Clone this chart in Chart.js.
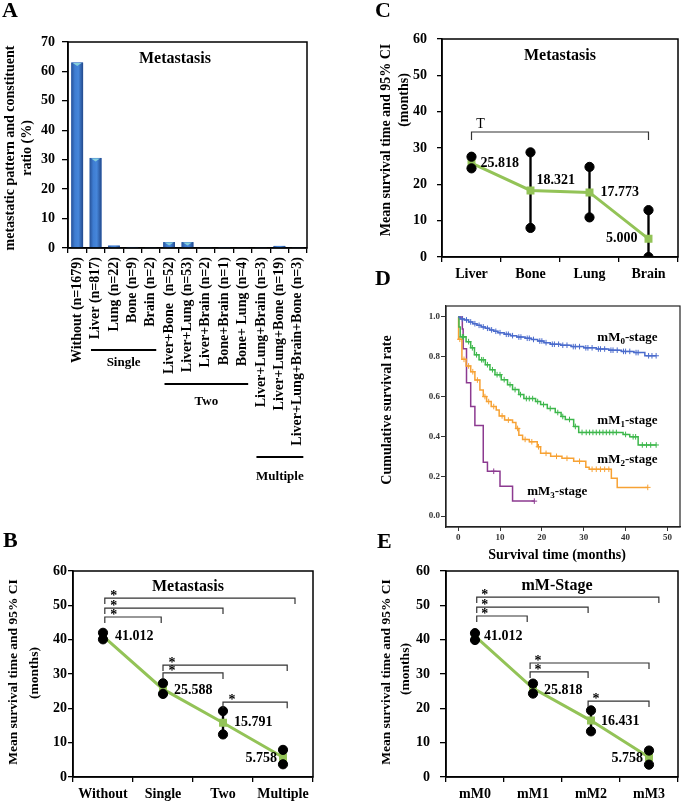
<!DOCTYPE html>
<html>
<head>
<meta charset="utf-8">
<title>Metastasis survival figure</title>
<script src="https://cdn.jsdelivr.net/npm/chart.js@4.4.1/dist/chart.umd.min.js"></script>
<style>
    html, body { margin: 0; padding: 0; background: #fff; }
    #fig { position: relative; width: 685px; height: 801px; overflow: hidden; }
    #fig canvas { position: absolute; }
</style>
</head>
<body>
<div id="fig">
    <canvas id="chartA" width="340" height="500" style="left:0;top:0"></canvas>
    <canvas id="chartC" width="345" height="285" style="left:340px;top:0"></canvas>
    <canvas id="chartD" width="345" height="300" style="left:340px;top:265px"></canvas>
    <canvas id="chartB" width="340" height="291" style="left:0;top:510px"></canvas>
    <canvas id="chartE" width="345" height="286" style="left:340px;top:515px"></canvas>
</div>
<script>
const SERIF = "'Liberation Serif', 'Times New Roman', serif";
Chart.defaults.font.family = SERIF;
Chart.defaults.color = "#000";

// Panel A - metastatic pattern
const categoriesA = ["Without (n=1679)", "Liver (n=817)", "Lung (n=22)", "Bone (n=9)", "Brain (n=2)",
    "Liver+Bone  (n=52)", "Liver+Lung (n=53)", "Liver+Brain (n=2)", "Bone+Brain (n=1)", "Bone+ Lung (n=4)",
    "Liver+Lung+Brain (n=3)", "Liver+Lung+Bone (n=19)", "Liver+Lung+Brain+Bone (n=3)"];
const ratioA = [63.0, 30.6, 0.8, 0.35, 0.1, 2.0, 2.0, 0.1, 0.05, 0.15, 0.1, 0.7, 0.1];
const groupNamesA = ["Single", "Two", "Multiple"];
const groupSpansA = [[1, 4], [5, 9], [10, 12]];

// Panel B - metastasis groups
const categoriesB = ["Without", "Single", "Two", "Multiple"];
const meanB = [41.012, 25.588, 15.791, 5.758];
const lowB = [40.1, 24.2, 12.4, 3.7];
const highB = [42.0, 27.3, 19.2, 7.9];
const pairsB = [[0, 3], [0, 2], [0, 1], [1, 3], [1, 2], [2, 3]];

// Panel C - metastasis site
const categoriesC = ["Liver", "Bone", "Lung", "Brain"];
const meanC = [25.818, 18.321, 17.773, 5.000];
const lowC = [24.4, 8.0, 10.9, 0];
const highC = [27.6, 28.8, 24.8, 12.9];
const pairsC = [[0, 3]];

// Panel E - mM stage
const categoriesE = ["mM0", "mM1", "mM2", "mM3"];
const meanE = [41.012, 25.818, 16.431, 5.758];
const lowE = [39.9, 24.3, 13.3, 3.6];
const highE = [41.9, 27.2, 19.4, 7.7];
const pairsE = [[0, 3], [0, 2], [0, 1], [1, 3], [1, 2], [2, 3]];

// Panel D - Kaplan-Meier curves (event times, survival after event, censored times)
const m0Times = [0.5, 1.5, 2.5, 3.5, 4.5, 5.5, 6.5, 7.5, 8.5, 9.5, 11, 12.5, 14, 16, 17.5, 19, 20.5, 22, 24.5, 27, 30, 33, 36, 39, 42, 44.6];
const m0Surv = [0.99, 0.985, 0.975, 0.966, 0.958, 0.95, 0.943, 0.935, 0.928, 0.921, 0.913, 0.906, 0.899, 0.893, 0.887, 0.879, 0.871, 0.863, 0.858, 0.851, 0.845, 0.839, 0.833, 0.827, 0.821, 0.805];
const m0Censor = [1, 2, 3, 4, 5, 6, 7, 8, 9, 10, 11.5, 12, 13, 14.5, 15, 16.5, 17, 18, 19.5, 20, 21, 22.5, 23, 24, 25, 26, 27.5, 28, 29, 30.5, 31, 32, 33.5, 34, 35, 36.5, 37, 38, 39.5, 40, 41, 42.5, 43, 45.5, 46.3, 47.3];

const m1Times = [0.2, 0.5, 1.9, 3.0, 3.9, 5.0, 6.5, 7.6, 8.8, 10.3, 11.8, 13.0, 14.5, 15.7, 18.5, 19.7, 21.3, 23.2, 24.6, 25.6, 27.6, 28.8, 39.4, 41.0, 43.0];
const m1Surv = [0.95, 0.90, 0.876, 0.845, 0.81, 0.785, 0.76, 0.735, 0.71, 0.685, 0.66, 0.635, 0.61, 0.59, 0.575, 0.56, 0.54, 0.52, 0.50, 0.485, 0.45, 0.42, 0.41, 0.398, 0.357];
const m1Censor = [1, 1.3, 2.5, 3.4, 4.4, 5.6, 6, 7, 8.2, 9.3, 10, 11, 12.4, 13.6, 14.9, 16.3, 17, 17.8, 19, 20.4, 22, 23.8, 25, 26.6, 28, 29.6, 30.6, 31.4, 32.2, 33, 33.8, 34.6, 35.4, 36.2, 37, 37.8, 40, 41.8, 42.4, 44, 45, 46, 47.3];

const m2Times = [0.1, 0.9, 1.9, 3.0, 4.0, 5.2, 6.0, 6.8, 7.9, 9.1, 9.8, 11.1, 13.0, 13.8, 14.5, 15.4, 17.0, 18.9, 19.7, 22.1, 24.8, 27.6, 30.5, 31.3, 36.6, 38.0];
const m2Surv = [0.888, 0.787, 0.754, 0.725, 0.683, 0.633, 0.60, 0.575, 0.55, 0.533, 0.503, 0.482, 0.47, 0.44, 0.406, 0.385, 0.373, 0.348, 0.315, 0.30, 0.29, 0.275, 0.245, 0.235, 0.19, 0.144];
const m2Censor = [0.4, 1.4, 2.5, 3.5, 4.6, 6.4, 7.3, 8.5, 10.5, 12, 14.2, 16, 17.6, 19.2, 21, 23.5, 26, 29, 32, 33, 34, 35, 36, 45.3];

const m3Times = [1.0, 1.2, 2.0, 3.0, 4.0, 6.0, 7.0, 10.0, 13.0];
const m3Surv = [0.94, 0.84, 0.67, 0.55, 0.455, 0.27, 0.225, 0.15, 0.075];
const m3Censor = [8.5, 18.2];

const stageSubs = ["0", "1", "2", "3"];
const stageColors = ["#4a6bcc", "#3db74b", "#f7a234", "#8c3a90"];
const GREEN = "#93c357";

// ---------- helpers ----------
function drawText(ctx, t) {
    ctx.save();
    ctx.translate(t.x, t.y);
    if (t.rot) ctx.rotate(-Math.PI / 2);
    ctx.font = t.font;
    ctx.fillStyle = t.color || "#000";
    ctx.textAlign = t.align || "center";
    ctx.textBaseline = t.base || "middle";
    ctx.fillText(t.text, 0, 0);
    ctx.restore();
}

// frame box + free texts (panel letter, title, axis titles)
function decor(cfg) {
    return {
        id: "decor",
        afterDraw(chart) {
            const ctx = chart.ctx;
            const a = chart.chartArea;
            ctx.save();
            ctx.strokeStyle = cfg.frameColor || "#000";
            ctx.lineWidth = cfg.frameWidth || 1.5;
            ctx.strokeRect(a.left, a.top, a.right - a.left, a.bottom - a.top);
            ctx.restore();
            cfg.texts.forEach((t) => drawText(ctx, t));
        },
    };
}

function yAxis(max, width, pad, tick) {
    return {
        min: 0,
        max: max,
        ticks: { stepSize: 10, padding: pad, font: { size: 14, weight: "bold" }, color: "#000" },
        grid: { drawOnChartArea: false, tickLength: tick, color: "#000", lineWidth: 1.3 },
        border: { color: "#000", width: 1.5 },
        afterFit: (s) => { s.width = width; },
    };
}

function xCategory(height) {
    return {
        offset: true,
        grid: { offset: true, drawOnChartArea: false, tickLength: 5, color: "#000", lineWidth: 1.3 },
        border: { color: "#000", width: 1.5 },
        ticks: { padding: 4, font: { size: 14, weight: "bold" }, color: "#000", autoSkip: false, maxRotation: 0 },
        afterFit: (s) => { s.height = height; },
    };
}

// comparison brackets drawn through the chart scales
function brackets(pairs, cfg) {
    return {
        id: "brackets",
        afterDatasetsDraw(chart) {
            const { ctx } = chart;
            const x = chart.scales.x, y = chart.scales.y;
            ctx.save();
            pairs.forEach((p, i) => {
                const [lvl, dl, dr] = cfg.levels[i];
                const x1 = x.getPixelForValue(p[0] + dl);
                const x2 = x.getPixelForValue(p[1] + dr);
                const yy = y.getPixelForValue(lvl);
                ctx.strokeStyle = "#333";
                ctx.lineWidth = 1.2;
                ctx.beginPath();
                ctx.moveTo(x1, yy + cfg.drop);
                ctx.lineTo(x1, yy);
                ctx.lineTo(x2, yy);
                ctx.lineTo(x2, yy + cfg.drop);
                ctx.stroke();
                drawText(ctx, { text: cfg.mark, x: x1 + cfg.markDx, y: yy + cfg.markDy, font: cfg.markFont, base: "alphabetic" });
            });
            ctx.restore();
        },
    };
}

// numeric labels next to the mean points
function valueLabels(values, offsets) {
    return {
        id: "valueLabels",
        afterDatasetsDraw(chart) {
            const meta = chart.getDatasetMeta(2);
            meta.data.forEach((pt, i) => {
                const [dx, dy, align] = offsets[i];
                drawText(chart.ctx, { text: values[i].toFixed(3), x: pt.x + dx, y: pt.y + dy, font: "bold 14px " + SERIF, align: align });
            });
        },
    };
}

function meanChart(id, labels, mean, low, high, opts) {
    return new Chart(document.getElementById(id), {
        type: "line",
        data: {
            labels: labels,
            datasets: [
                { data: high, showLine: false, pointRadius: 4.6, pointBackgroundColor: "#000", pointBorderColor: "#000", order: 0 },
                { data: low, showLine: false, pointRadius: 4.6, pointBackgroundColor: "#000", pointBorderColor: "#000", order: 0 },
                { data: mean, borderColor: GREEN, borderWidth: 3, pointStyle: "rect", pointRadius: 3.5, pointBackgroundColor: GREEN, pointBorderColor: GREEN, order: 1 },
                { type: "bar", data: low.map((v, i) => [v, high[i]]), backgroundColor: "#000", barThickness: 1.7, order: 2 },
            ],
        },
        options: {
            responsive: false,
            animation: false,
            events: [],
            layout: { padding: opts.padding },
            plugins: { legend: { display: false }, tooltip: { enabled: false } },
            scales: { x: xCategory(opts.xHeight), y: yAxis(60, opts.yWidth, opts.yPad, opts.yTick) },
        },
        plugins: opts.plugins,
    });
}

// ---------- Panel A ----------
const barShade = {
    id: "barShade",
    afterDatasetsDraw(chart) {
        const ctx = chart.ctx;
        chart.getDatasetMeta(0).data.forEach((bar) => {
            const { x, y, base, width } = bar.getProps(["x", "y", "base", "width"], true);
            const l = x - width / 2;
            const h = base - y;
            if (h <= 0.2) return;
            const g = ctx.createLinearGradient(l, 0, l + width, 0);
            g.addColorStop(0, "#285399");
            g.addColorStop(0.3, "#3f7dd2");
            g.addColorStop(0.6, "#4686da");
            g.addColorStop(1, "#22498c");
            ctx.fillStyle = g;
            ctx.fillRect(l, y, width, h);
            if (h > 2) {
                ctx.fillStyle = "#86cfdb";
                ctx.beginPath();
                ctx.moveTo(l + 1.5, y + 0.5);
                ctx.lineTo(l + width - 1.5, y + 0.5);
                ctx.lineTo(x, y + Math.min(3.5, h - 0.5));
                ctx.closePath();
                ctx.fill();
            }
        });
    },
};

const groupLinesA = {
    id: "groupLines",
    afterDraw(chart) {
        const ctx = chart.ctx;
        const x = chart.scales.x;
        const lineY = [350, 384, 457];
        const textY = [363, 402, 477];
        ctx.save();
        ctx.strokeStyle = "#000";
        ctx.lineWidth = 2;
        groupSpansA.forEach((span, i) => {
            const x1 = x.getPixelForValue(span[0] - 0.25);
            const x2 = x.getPixelForValue(span[1] + 0.3);
            ctx.beginPath();
            ctx.moveTo(x1, lineY[i]);
            ctx.lineTo(x2, lineY[i]);
            ctx.stroke();
            drawText(ctx, { text: groupNamesA[i], x: (x1 + x2) / 2, y: textY[i], font: "bold 13px " + SERIF });
        });
        ctx.restore();
    },
};

new Chart(document.getElementById("chartA"), {
    type: "bar",
    data: {
        labels: categoriesA,
        datasets: [{ data: ratioA, backgroundColor: "#3a72c6", barPercentage: 0.64, categoryPercentage: 1 }],
    },
    options: {
        responsive: false,
        animation: false,
        events: [],
        layout: { padding: { left: 0, top: 42, right: 33, bottom: 52 } },
        plugins: { legend: { display: false }, tooltip: { enabled: false } },
        scales: {
            x: {
                grid: { offset: true, drawOnChartArea: false, tickLength: 5, color: "#000", lineWidth: 1.3 },
                border: { color: "#000", width: 1.5 },
                ticks: { padding: 4, font: { size: 14, weight: "bold" }, color: "#000", autoSkip: false, minRotation: 90, maxRotation: 90 },
                afterFit: (s) => { s.height = 200; },
            },
            y: {
                min: 0,
                max: 70,
                ticks: { stepSize: 10, padding: 7, font: { size: 14, weight: "bold" }, color: "#000" },
                grid: { drawOnChartArea: false, tickLength: 6, color: "#000", lineWidth: 1.3 },
                border: { color: "#000", width: 1.5 },
                afterFit: (s) => { s.width = 68; },
            },
        },
    },
    plugins: [barShade, groupLinesA, decor({
        texts: [
            { text: "A", x: 2, y: 17, font: "bold 22px " + SERIF, align: "left", base: "alphabetic" },
            { text: "Metastasis", x: 175, y: 59, font: "bold 16px " + SERIF },
            { text: "metastatic pattern and constituent", x: 10, y: 148, font: "bold 14px " + SERIF, rot: true },
            { text: "ratio (%)", x: 27, y: 148, font: "bold 14px " + SERIF, rot: true },
        ],
    })],
});

// ---------- Panel C ----------
meanChart("chartC", categoriesC, meanC, lowC, highC, {
    padding: { left: 0, top: 39, right: 2, bottom: 0 },
    xHeight: 28, yWidth: 102, yPad: 10, yTick: 5,
    plugins: [
        brackets(pairsC, { levels: [[34.4, 0, 0]], drop: 8, mark: "T", markDx: 9, markDy: -4, markFont: "14px " + SERIF }),
        valueLabels(meanC, [[9, 0, "left"], [6, -10, "left"], [11, 0, "left"], [-11, 0, "right"]]),
        decor({
            texts: [
                { text: "C", x: 35, y: 17, font: "bold 22px " + SERIF, align: "left", base: "alphabetic" },
                { text: "Metastasis", x: 220, y: 56, font: "bold 16px " + SERIF },
                { text: "Mean survival time and 95% CI", x: 46, y: 140, font: "bold 14px " + SERIF, rot: true },
                { text: "(months)", x: 64, y: 100, font: "bold 14px " + SERIF, rot: true },
            ],
        }),
    ],
});

// ---------- Panel B ----------
meanChart("chartB", categoriesB, meanB, lowB, highB, {
    padding: { left: 0, top: 61, right: 27, bottom: 0 },
    xHeight: 24, yWidth: 73, yPad: 1, yTick: 5,
    plugins: [
        brackets(pairsB, {
            levels: [[52.1, 0.03, 0.2], [49.2, 0.03, 0], [46.6, 0.03, -0.03], [32.6, 0, 0.07], [30.3, 0, 0], [21.8, 0, 0.07]],
            drop: 6, mark: "*", markDx: 9, markDy: 2, markFont: "bold 14px " + SERIF,
        }),
        valueLabels(meanB, [[12, 0, "left"], [11, 1, "left"], [11, 0, "left"], [-6, 1, "right"]]),
        decor({
            texts: [
                { text: "B", x: 3, y: 37, font: "bold 22px " + SERIF, align: "left", base: "alphabetic" },
                { text: "Metastasis", x: 188, y: 77, font: "bold 16px " + SERIF },
                { text: "Mean survival time and 95% CI", x: 14, y: 162, font: "bold 13.5px " + SERIF, rot: true },
                { text: "(months)", x: 35, y: 163, font: "bold 13.5px " + SERIF, rot: true },
            ],
        }),
    ],
});

// ---------- Panel E ----------
meanChart("chartE", categoriesE, meanE, lowE, highE, {
    padding: { left: 0, top: 56, right: 2, bottom: 0 },
    xHeight: 24, yWidth: 106, yPad: 10, yTick: 6,
    plugins: [
        brackets(pairsE, {
            levels: [[52.4, 0.03, 0.17], [49.5, 0.03, -0.05], [46.9, 0.03, -0.1], [33.2, -0.05, 0], [30.6, -0.05, -0.05], [22.1, -0.05, 0]],
            drop: 6, mark: "*", markDx: 8, markDy: 2, markFont: "bold 14px " + SERIF,
        }),
        valueLabels(meanE, [[9, 0, "left"], [11, 2, "left"], [10, 1, "left"], [-6, 1, "right"]]),
        decor({
            texts: [
                { text: "E", x: 37, y: 33, font: "bold 22px " + SERIF, align: "left", base: "alphabetic" },
                { text: "mM-Stage", x: 217, y: 71, font: "bold 16px " + SERIF },
                { text: "Mean survival time and 95% CI", x: 47, y: 157, font: "bold 13.5px " + SERIF, rot: true },
                { text: "(months)", x: 66, y: 154, font: "bold 13.5px " + SERIF, rot: true },
            ],
        }),
    ],
});

// ---------- Panel D ----------
function kmCurve(times, surv, censor) {
    const level = (t) => {
        let s = 1;
        times.forEach((tt, i) => { if (tt <= t) s = surv[i]; });
        return s;
    };
    const marks = censor.map((t) => ({ x: t, y: level(t) }));
    const steps = times.map((t, i) => ({ x: t, y: surv[i] })).concat(marks);
    steps.sort((a, b) => a.x - b.x);
    return { line: [{ x: 0, y: 1 }].concat(steps), marks: marks };
}

const curvesD = [
    kmCurve(m0Times, m0Surv, m0Censor),
    kmCurve(m1Times, m1Surv, m1Censor),
    kmCurve(m2Times, m2Surv, m2Censor),
    kmCurve(m3Times, m3Surv, m3Censor),
];

const datasetsD = [];
curvesD.forEach((c, i) => {
    datasetsD.push({ data: c.line, borderColor: stageColors[i], borderWidth: 1.5, stepped: true, pointRadius: 0 });
    datasetsD.push({ data: c.marks, showLine: false, pointStyle: "cross", pointRadius: 2.8, borderWidth: 1, borderColor: stageColors[i], pointBorderColor: stageColors[i] });
});

const stageLabelsD = {
    id: "stageLabels",
    afterDatasetsDraw(chart) {
        const ctx = chart.ctx;
        const x = chart.scales.x, y = chart.scales.y;
        const anchors = [[47.6, 0.90, "right"], [47.6, 0.487, "right"], [47.6, 0.29, "right"], [16.5, 0.13, "left"]];
        const big = "bold 13px " + SERIF, small = "bold 9px " + SERIF;
        ctx.save();
        ctx.fillStyle = "#000";
        ctx.textBaseline = "alphabetic";
        ctx.textAlign = "left";
        stageSubs.forEach((sub, i) => {
            const [ax, ay, align] = anchors[i];
            ctx.font = big;
            const w1 = ctx.measureText("mM").width;
            const w3 = ctx.measureText("-stage").width;
            ctx.font = small;
            const w2 = ctx.measureText(sub).width;
            let px = x.getPixelForValue(ax);
            const py = y.getPixelForValue(ay) + 4.5;
            if (align === "right") px -= w1 + w2 + w3;
            ctx.font = big;
            ctx.fillText("mM", px, py);
            ctx.font = small;
            ctx.fillText(sub, px + w1, py + 3);
            ctx.font = big;
            ctx.fillText("-stage", px + w1 + w2, py);
        });
        ctx.restore();
    },
};

new Chart(document.getElementById("chartD"), {
    type: "line",
    data: { datasets: datasetsD },
    options: {
        responsive: false,
        animation: false,
        events: [],
        layout: { padding: { left: 0, top: 41, right: 2, bottom: 0 } },
        plugins: { legend: { display: false }, tooltip: { enabled: false } },
        scales: {
            x: {
                type: "linear",
                min: -2.9,
                max: 53,
                ticks: { stepSize: 10, includeBounds: false, padding: 1, font: { size: 9, weight: "bold" }, color: "#333" },
                grid: { drawOnChartArea: false, tickLength: 4, color: "#333", lineWidth: 1 },
                border: { color: "#222", width: 1.2 },
                afterFit: (s) => { s.height = 38; },
            },
            y: {
                min: -0.055,
                max: 1.055,
                ticks: { stepSize: 0.2, includeBounds: false, padding: 1, font: { size: 9, weight: "bold" }, color: "#333", callback: (v) => v.toFixed(1) },
                grid: { drawOnChartArea: false, tickLength: 5, color: "#333", lineWidth: 1 },
                border: { color: "#222", width: 1.2 },
                afterFit: (s) => { s.width = 106; },
            },
        },
    },
    plugins: [stageLabelsD, decor({
        frameColor: "#222",
        frameWidth: 1.2,
        texts: [
            { text: "D", x: 35, y: 20, font: "bold 22px " + SERIF, align: "left", base: "alphabetic" },
            { text: "Cumulative survival rate", x: 47, y: 145, font: "bold 14px " + SERIF, rot: true },
            { text: "Survival time (months)", x: 217, y: 290, font: "bold 14px " + SERIF },
        ],
    })],
});
</script>
</body>
</html>
